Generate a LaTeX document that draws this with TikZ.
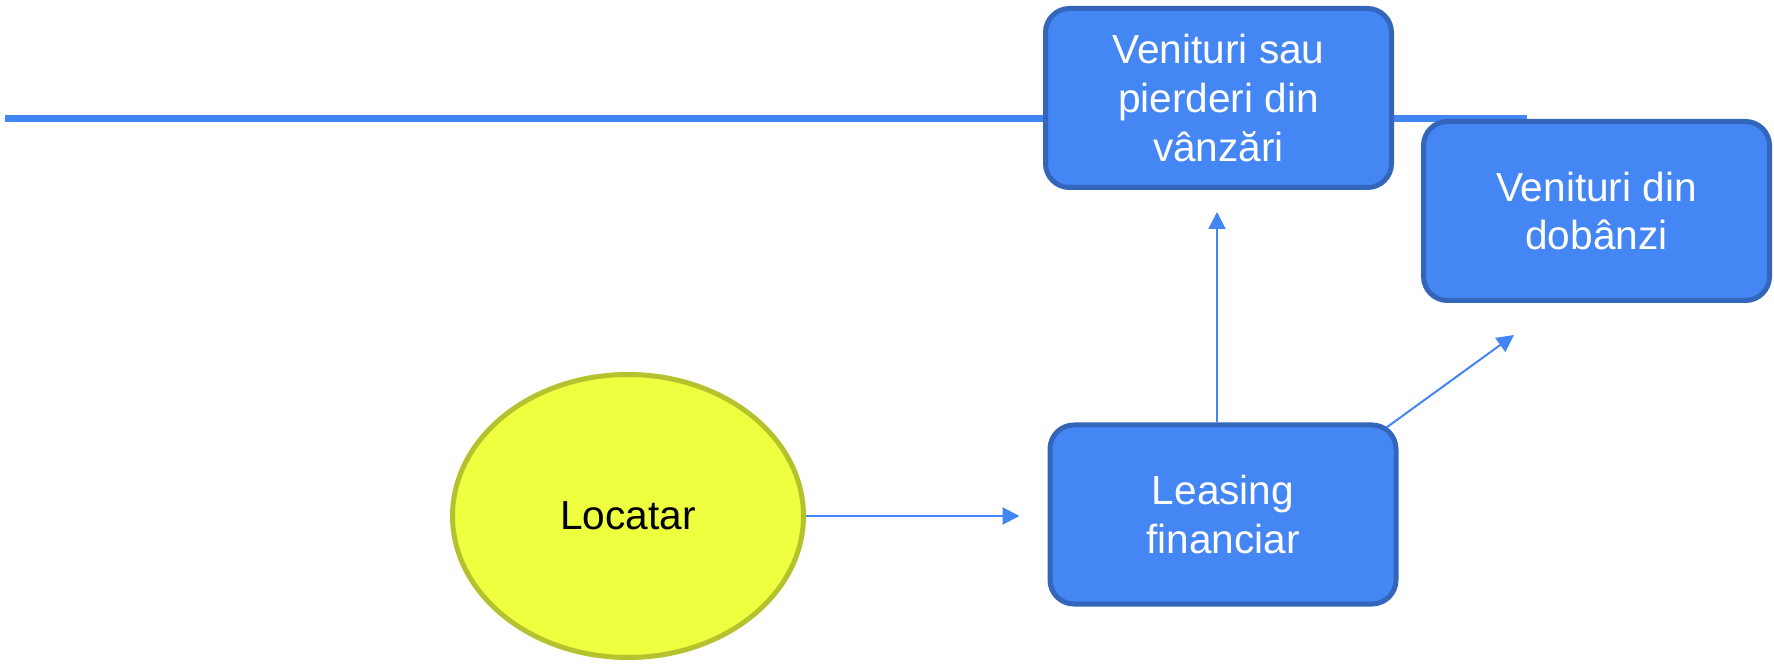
\documentclass[tikz,border=0pt]{standalone}
\usepackage{fontspec}
\setmainfont{Liberation Sans}
\usetikzlibrary{shapes.geometric,arrows.meta}
\definecolor{boxblue}{HTML}{4486F4}
\definecolor{boxedge}{HTML}{3366BB}
\definecolor{linkblue}{HTML}{4285F4}
\definecolor{tenantfill}{HTML}{EDFF3F}
\definecolor{tenantedge}{HTML}{B4C22E}
\begin{document}
\begin{tikzpicture}[
	x=0.5pt, y=-0.5pt,
	box/.style={
		draw=boxedge, fill=boxblue, line width=2.5pt, rectangle, rounded corners=12pt,
		minimum width=173pt, minimum height=89.5pt,
		text=white, align=center, inner sep=4pt,
		font=\fontsize{20.3}{24.3}\selectfont
	},
	tenant/.style={
		draw=tenantedge, fill=tenantfill, line width=2.5pt, ellipse,
		minimum width=175.5pt, minimum height=141.5pt, inner sep=0pt,
		font=\fontsize{20.3}{24.3}\selectfont
	},
	arr/.style={-{Triangle[length=8.5pt, width=8.5pt]}, draw=linkblue, line width=1pt},
	]
	
	\useasboundingbox (0,0) rectangle (1774,668);
	
	% rule behind the top boxes
	\draw[linkblue, line width=3.5pt] (5,119) -- (1527,119);
	
	\node[box]    (sales)    at (1218.5, 98)  {Venituri sau\\pierderi din\\vânzări};
	\node[box]    (interest) at (1596.5, 211) {Venituri din\\dobânzi};
	\node[box]    (leasing)  at (1223, 514.5) {Leasing\\financiar};
	\node[tenant] (locatar)  at (628, 516)    {Locatar};
	
	\coordinate (interesttip) at (1514,335);
	
	\draw[arr, shorten >=14pt] (locatar.east) -- (leasing.west |- locatar.east);
	\draw[arr, shorten >=11pt] ([xshift=-3pt]leasing.north) -- ([xshift=-3pt]leasing.north |- sales.south);
	\draw[arr] ([shift={(-12,5)}]leasing.north east) -- (interesttip);
	
\end{tikzpicture}
\end{document}
